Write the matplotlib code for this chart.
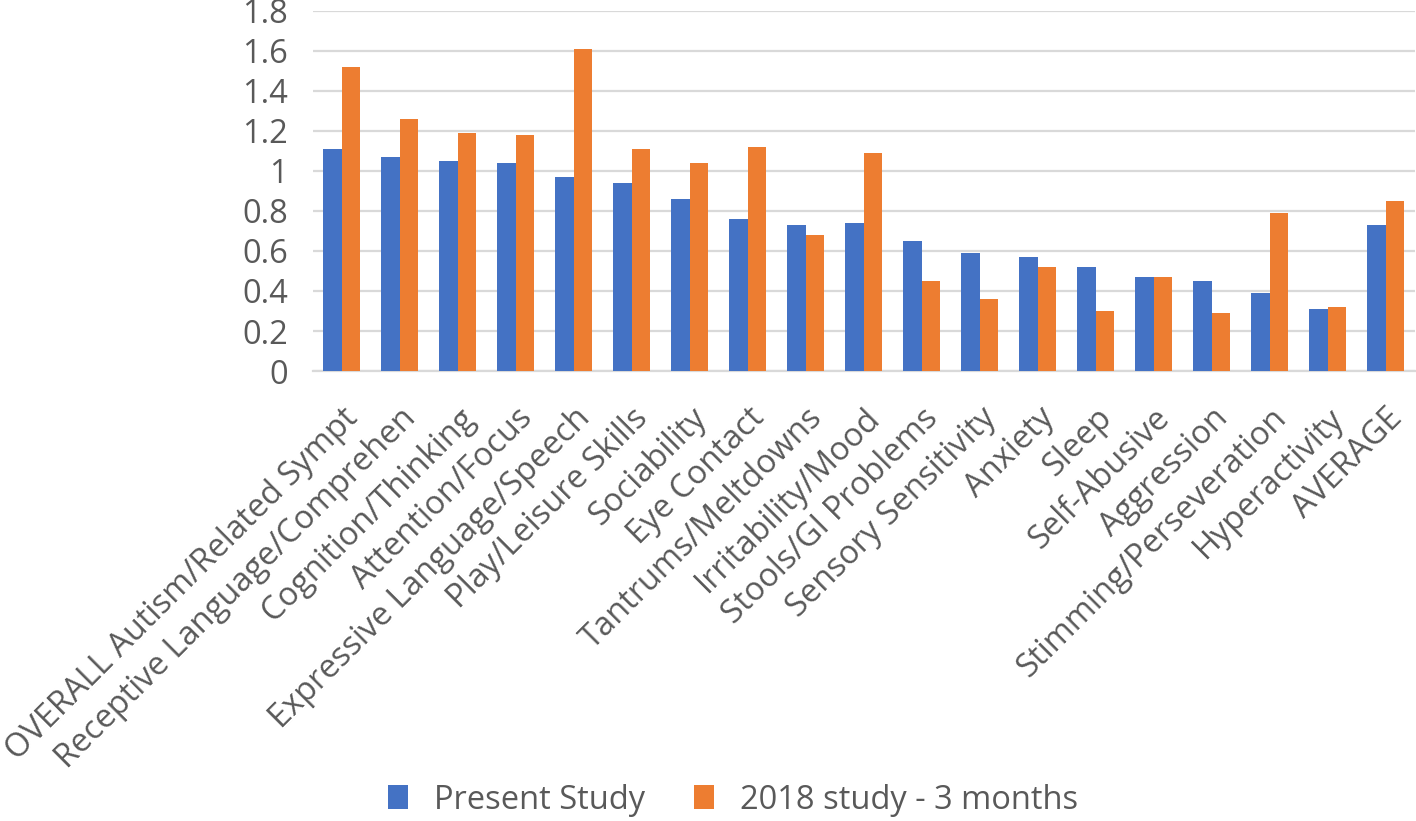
import matplotlib
matplotlib.use("Agg")
import matplotlib.pyplot as plt
import numpy as np

categories = [
    "OVERALL Autism/Related Sympt",
    "Receptive Language/Comprehen",
    "Cognition/Thinking",
    "Attention/Focus",
    "Expressive Language/Speech",
    "Play/Leisure Skills",
    "Sociability",
    "Eye Contact",
    "Tantrums/Meltdowns",
    "Irritability/Mood",
    "Stools/GI Problems",
    "Sensory Sensitivity",
    "Anxiety",
    "Sleep",
    "Self-Abusive",
    "Aggression",
    "Stimming/Perseveration",
    "Hyperactivity",
    "AVERAGE",
]
present_study = [1.11, 1.07, 1.05, 1.04, 0.97, 0.94, 0.86, 0.76, 0.73, 0.74,
                 0.65, 0.59, 0.57, 0.52, 0.47, 0.45, 0.39, 0.31, 0.73]
study_2018 = [1.52, 1.26, 1.19, 1.18, 1.61, 1.11, 1.04, 1.12, 0.68, 1.09,
              0.45, 0.36, 0.52, 0.30, 0.47, 0.29, 0.79, 0.32, 0.85]
series_labels = ["Present Study", "2018 study - 3 months"]
y_ticks = [0, 0.2, 0.4, 0.6, 0.8, 1.0, 1.2, 1.4, 1.6, 1.8]
y_tick_labels = ["0", "0.2", "0.4", "0.6", "0.8", "1", "1.2", "1.4", "1.6", "1.8"]

plt.rcParams["font.family"] = ["Open Sans", "DejaVu Sans"]
text_color = "#595959"
fs = 23.5

fig = plt.figure(figsize=(14.16, 8.21), dpi=100)
ax = fig.add_axes([0.221, 0.548, 0.778, 0.439])

x = np.arange(len(categories))
width = 0.32
ax.bar(x - width / 2, present_study, width, color="#4472C4", label=series_labels[0], zorder=3)
ax.bar(x + width / 2, study_2018, width, color="#ED7D31", label=series_labels[1], zorder=3)

ax.set_xlim(-0.5, len(categories) - 0.5)
ax.set_ylim(0, 1.8)
ax.set_yticks(y_ticks)
ax.set_yticklabels(y_tick_labels)
ax.yaxis.grid(True, color="#D9D9D9", linewidth=1.6, zorder=0)
ax.set_axisbelow(True)

for side in ["top", "right", "left"]:
    ax.spines[side].set_visible(False)
ax.spines["bottom"].set_color("#D9D9D9")
ax.spines["bottom"].set_linewidth(1.6)

ax.tick_params(axis="y", length=0, pad=18, labelsize=fs, labelcolor=text_color)
ax.tick_params(axis="x", length=0, pad=22, labelsize=fs, labelcolor=text_color)
ax.set_xticks(x)
ax.set_xticklabels(categories, rotation=45, ha="right", va="top", rotation_mode="anchor")

fig.legend(loc="center", bbox_to_anchor=(733 / 1416, 1 - 800 / 821), ncol=2, frameon=False,
           fontsize=fs, labelcolor=text_color, handlelength=0.6, handleheight=0.75,
           handletextpad=0.8, columnspacing=1.5)

fig.savefig("out.png", dpi=100)
